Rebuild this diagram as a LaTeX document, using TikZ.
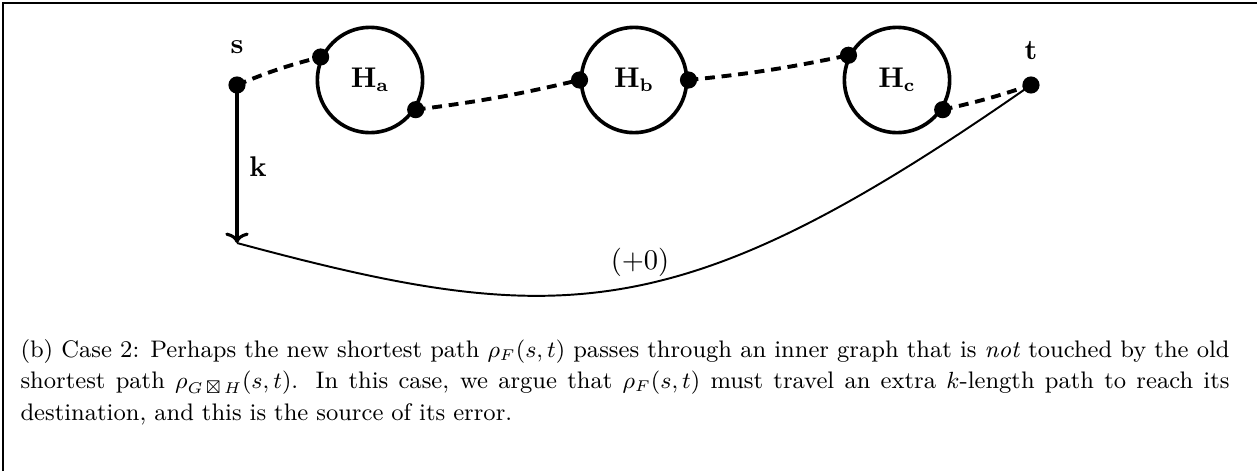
\documentclass[tikz,border=0pt]{standalone}
\usepackage{amssymb}
\usetikzlibrary{arrows.meta}
\begin{document}
\begin{tikzpicture}[x=0.3846pt,y=0.3846pt,
  every node/.style={font=\fontsize{10.6}{12}\selectfont},
  dotnode/.style={circle,fill=black,inner sep=0pt,minimum size=6.6pt},
  bigcirc/.style={circle,draw,line width=1.4pt,minimum size=40.5pt,inner sep=0pt},
  dashedge/.style={line width=1.5pt,dash pattern=on 3.8pt off 2.6pt},
  lbl/.style={inner sep=0pt}]
\useasboundingbox (0,0) rectangle (1257,-471);
% frame
\draw[line width=1pt] (3,-471) -- (3,-3) -- (1257,-3);
% nodes
\node[dotnode] (s) at (237,-85) {};
\node[dotnode] (t) at (1031,-85) {};
\node[lbl] (slab) at (237,-47) {$\mathbf{s}$};
\node[lbl] (tlab) at (1031,-50) {$\mathbf{t}$};
\node[bigcirc] (Ha) at (370,-80) {$\mathbf{H_a}$};
\node[bigcirc] (Hb) at (634,-80) {$\mathbf{H_b}$};
\node[bigcirc] (Hc) at (897,-80) {$\mathbf{H_c}$};
\node[dotnode] (a1) at (Ha.155) {};
\node[dotnode] (a2) at (Ha.-33) {};
\node[dotnode] (b1) at (Hb.180) {};
\node[dotnode] (b2) at (Hb.0) {};
\node[dotnode] (c1) at (Hc.153) {};
\node[dotnode] (c2) at (Hc.-33) {};
% dashed connectors
\draw[dashedge] (s.center) to[bend left=4] (a1.center);
\draw[dashedge] (a2.center) to[bend right=3] (b1.center);
\draw[dashedge] (b2.center) to[bend right=3] (c1.center);
\draw[dashedge] (c2.center) to[bend right=3] (t.center);
% k arrow
\coordinate (kend) at (237,-243);
\draw[line width=1.2pt,-{To[length=4pt,width=9pt]}] (s.center) -- (kend);
\node[lbl] (klab) at (258,-167) {$\mathbf{k}$};
% curve
\draw[line width=0.75pt] (kend) .. controls (560,-330) and (680,-330) .. (t.center);
\node[lbl] (zero) at (640,-262) {$(+0)$};
% caption
\node[anchor=north west,text width=465pt,align=justify,inner sep=0pt,font=\fontsize{9.2}{12.1}\selectfont] (cap) at (20,-339)
{\spaceskip=3.07pt plus 1.6pt minus 1.4pt
(b) Case 2: Perhaps the new shortest path $\rho_F(s,t)$ passes through an inner graph that is \emph{not} touched by the old\linebreak{} shortest path $\rho_{G\,\boxtimes\,H}(s,t)$. In this case, we argue that $\rho_F(s,t)$ must travel an extra $k$-length path to reach its\linebreak{} destination, and this is the source of its error.};
\end{tikzpicture}
\end{document}
